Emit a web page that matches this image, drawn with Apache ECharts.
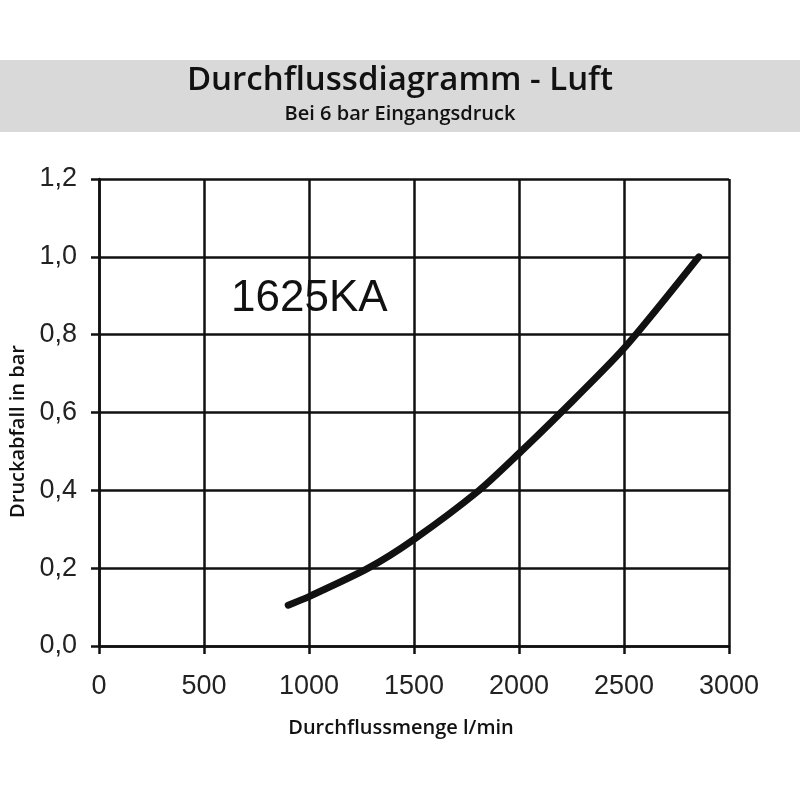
<!DOCTYPE html>
<html><head><meta charset="utf-8">
<script src="https://cdn.jsdelivr.net/npm/echarts@6/dist/echarts.min.js"></script>
<style>html,body{margin:0;padding:0;background:#fff}#c{width:800px;height:800px}</style>
</head><body><div id="c"></div>
<script>
const flow = [901, 1000, 1282, 1500, 1810, 2000, 2200, 2500, 2856];
const drop = [0.105, 0.127, 0.20, 0.274, 0.40, 0.495, 0.60, 0.765, 1.00];
const yTicks = ['0,0','0,2','0,4','0,6','0,8','1,0','1,2'];
const seriesName = '1625KA';

const chart = echarts.init(document.getElementById('c'));
chart.setOption({
  animation: false,
  backgroundColor: '#fff',
  graphic: [
    {type:'rect', shape:{x:0,y:60,width:800,height:72}, style:{fill:'#d9d9d9'}, z:-1},
    {type:'text', left:'center', top:64, style:{text:'Durchflussdiagramm - Luft', font:'600 33px "Open Sans"', fill:'#111'}},
    {type:'text', left:'center', top:104, style:{text:'Bei 6 bar Eingangsdruck', font:'600 20px "Open Sans"', fill:'#111'}},
    {type:'text', left:231, top:277, style:{text:seriesName, font:'44px "Liberation Sans"', fill:'#111'}}
  ],
  grid: {left:99, right:71, top:179, bottom:154, containLabel:false},
  xAxis: {
    type:'value', min:0, max:3000, interval:500,
    name:'Durchflussmenge l/min', nameLocation:'middle', nameGap:72,
    nameTextStyle:{fontFamily:'Open Sans', fontWeight:600, fontSize:20, color:'#111', padding:[0,26,0,0]},
    axisLine:{show:true, lineStyle:{color:'#111', width:2.5}},
    axisTick:{show:true, length:8, lineStyle:{color:'#111', width:2.5}},
    axisLabel:{fontFamily:'Liberation Sans', fontSize:27, color:'#222', margin:27,
      formatter:(v)=>String(v)},
    splitLine:{show:true, lineStyle:{color:'#111', width:2.5}}
  },
  yAxis: {
    type:'value', min:0, max:1.2, interval:0.2,
    name:'Druckabfall in bar', nameLocation:'middle', nameGap:64,
    nameTextStyle:{fontFamily:'Open Sans', fontWeight:600, fontSize:20, color:'#111', padding:[0,38,0,0]},
    axisLine:{show:true, lineStyle:{color:'#111', width:2.5}},
    axisTick:{show:true, length:8, lineStyle:{color:'#111', width:2.5}},
    axisLabel:{fontFamily:'Liberation Sans', fontSize:27, color:'#222', margin:22,
      formatter:(v)=>yTicks[Math.round(v/0.2)]},
    splitLine:{show:true, lineStyle:{color:'#111', width:2.5}}
  },
  series: [{
    name: seriesName, type:'line', smooth:0.25, showSymbol:false,
    data: flow.map((x,i)=>[x, drop[i]]),
    lineStyle:{color:'#111', width:7, cap:'round', join:'round'},
    z:5
  }]
});
</script></body></html>
